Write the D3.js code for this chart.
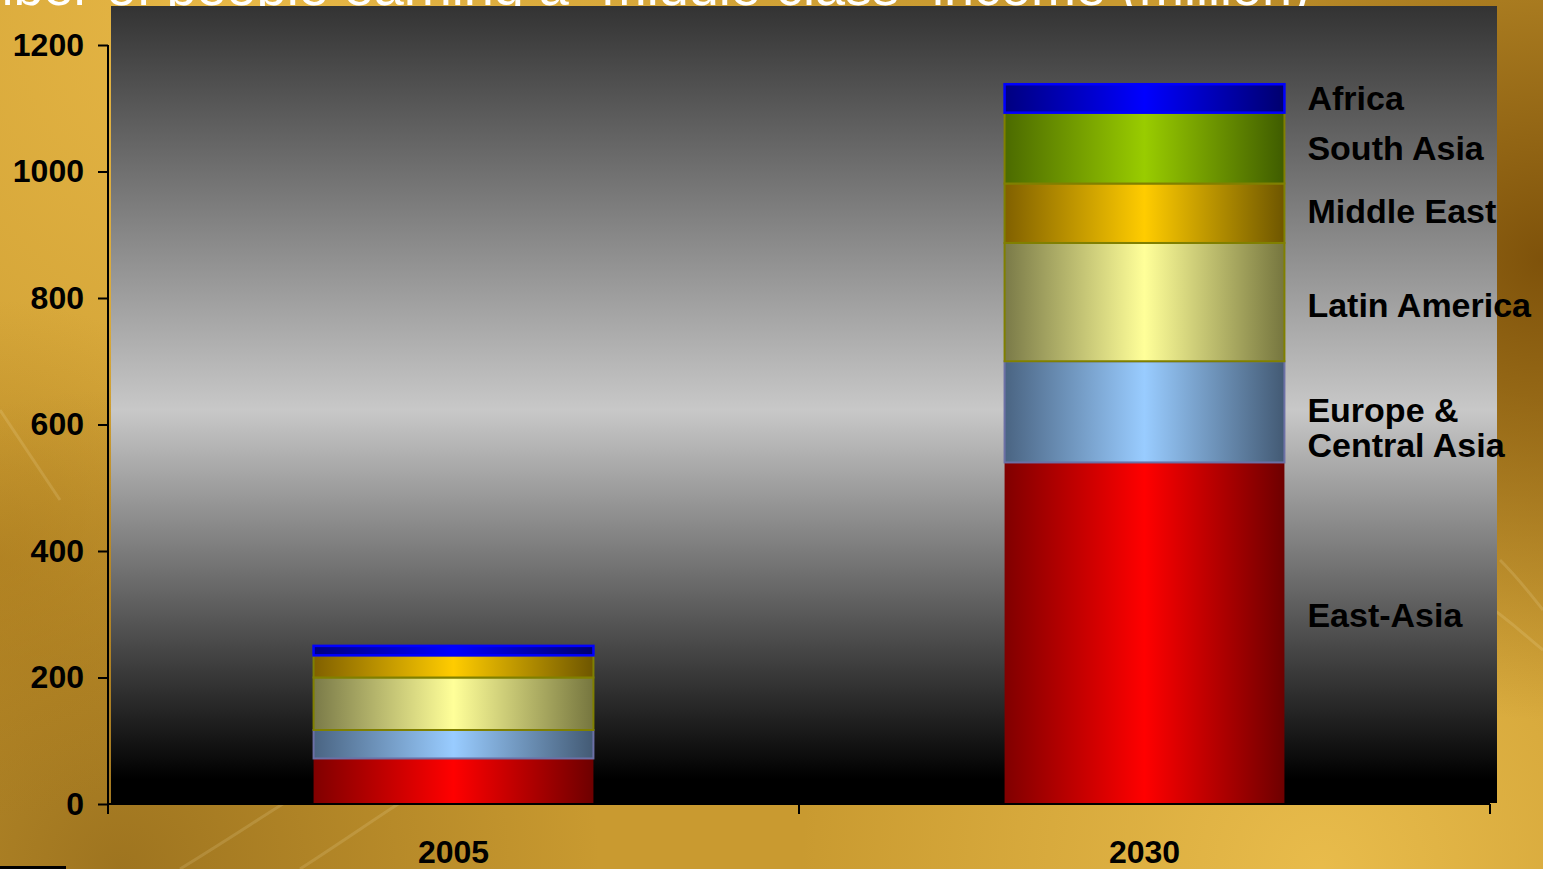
<!DOCTYPE html>
<html>
<head>
<meta charset="utf-8">
<script src="https://cdn.jsdelivr.net/npm/d3@7"></script>
<style>
  html, body { margin: 0; padding: 0; overflow: hidden; background: #c99a30; }
  text { font-family: "Liberation Sans", Arial, sans-serif; }
</style>
</head>
<body>
<div id="chart"></div>
<script>
var width = 1543,
    height = 869;

// data (million people)
var years = ["2005", "2030"];
var regions = ["East-Asia", "Europe & Central Asia", "Latin America", "Middle East", "South Asia", "Africa"];
var values2005 = [72, 45, 83, 35, 0, 15];
var values2030 = [540, 160, 187, 94, 112, 45];
var yTicks = [0, 200, 400, 600, 800, 1000, 1200];
var title = "Number of people earning a \u201Cmiddle class\u201D income (million)";

// bar colours: edge / centre / other edge / outline
var shades = {
  "East-Asia":             ["#800000", "#ff0000", "#6e0000", "none"],
  "Europe & Central Asia": ["#4a6482", "#99ccff", "#435a74", "#6c70a6"],
  "Latin America":         ["#7a7a48", "#ffff99", "#76763f", "#808000"],
  "Middle East":           ["#806000", "#ffcc00", "#6e5600", "#808000"],
  "South Asia":            ["#4b6a00", "#99cc00", "#3f5c00", "#808000"],
  "Africa":                ["#000080", "#0000ff", "#00006e", "#0000ff"]
};

var rows = years.map(function(y, i) {
  var row = { year: y };
  var vals = i === 0 ? values2005 : values2030;
  regions.forEach(function(r, j) { row[r] = vals[j]; });
  return row;
});

var svg = d3.select("#chart").append("svg")
  .attr("width", width)
  .attr("height", height);

var defs = svg.append("defs");

// ---- gold backdrop
function radial(id, cx, cy, r, color, op) {
  var g = defs.append("radialGradient").attr("id", id)
    .attr("gradientUnits", "userSpaceOnUse")
    .attr("cx", cx).attr("cy", cy).attr("r", r);
  g.append("stop").attr("offset", "0%").attr("stop-color", color).attr("stop-opacity", op);
  g.append("stop").attr("offset", "100%").attr("stop-color", color).attr("stop-opacity", 0);
}
radial("tl", 250, 0, 700, "#f2c24e", 0.75);
radial("br", 1320, 869, 520, "#f0c452", 0.8);
radial("tr", 1543, 260, 460, "#764a06", 0.9);
radial("bl", 120, 869, 480, "#8c6418", 0.7);
radial("ml", 0, 560, 260, "#a57418", 0.5);

svg.append("rect").attr("width", width).attr("height", height).attr("fill", "#c99a30");
["tl", "br", "tr", "bl", "ml"].forEach(function(id) {
  svg.append("rect").attr("width", width).attr("height", height).attr("fill", "url(#" + id + ")");
});

// faint light streaks in the backdrop
var streaks = svg.append("g").attr("fill", "none").attr("stroke", "#fff2c0")
  .attr("stroke-opacity", 0.15).attr("stroke-width", 3);
streaks.append("path").attr("d", "M180,869 C260,820 300,790 360,760");
streaks.append("path").attr("d", "M300,869 C360,830 380,815 420,790");
streaks.append("path").attr("d", "M1480,600 C1510,620 1530,640 1543,650");
streaks.append("path").attr("d", "M1500,560 C1520,580 1535,600 1543,610");
streaks.append("path").attr("d", "M0,410 C20,440 40,470 60,500");

// ---- title (mostly cut off at the top)
svg.append("text")
  .attr("x", 1310)
  .attr("y", 5)
  .attr("text-anchor", "end")
  .style("font-size", "54px")
  .style("fill", "#ffffff")
  .text(title);

// ---- scales
var x = d3.scaleBand()
  .domain(years)
  .range([108, 1490])
  .paddingInner(0.595)
  .paddingOuter(0.2975);

var y = d3.scaleLinear()
  .domain([0, 1200])
  .range([804, 45]);

// ---- plot background
var bg = defs.append("linearGradient").attr("id", "plotbg")
  .attr("x1", 0).attr("y1", 0).attr("x2", 0).attr("y2", 1);
[[0, "#333333"], [0.507, "#c8c8c8"], [0.97, "#000000"], [1, "#000000"]].forEach(function(s) {
  bg.append("stop").attr("offset", s[0]).attr("stop-color", s[1]);
});

svg.append("rect")
  .attr("x", 111)
  .attr("y", 6)
  .attr("width", 1497 - 111)
  .attr("height", 803 - 6)
  .attr("fill", "url(#plotbg)");

// ---- bar gradients
regions.forEach(function(r, i) {
  var c = shades[r];
  var g = defs.append("linearGradient").attr("id", "g" + i)
    .attr("x1", 0).attr("y1", 0).attr("x2", 1).attr("y2", 0);
  g.append("stop").attr("offset", "0%").attr("stop-color", c[0]);
  g.append("stop").attr("offset", "50%").attr("stop-color", c[1]);
  g.append("stop").attr("offset", "100%").attr("stop-color", c[2]);
});

// ---- stacked bars
var stacked = d3.stack().keys(regions)(rows);

var layers = svg.selectAll("g.layer")
  .data(stacked)
  .enter().append("g")
  .attr("class", "layer")
  .attr("fill", function(d, i) { return "url(#g" + i + ")"; })
  .attr("stroke", function(d) { return shades[d.key][3]; })
  .attr("stroke-width", function(d) { return d.key === "Africa" ? 2.5 : 2; });

layers.selectAll("rect")
  .data(function(d) { return d.filter(function(p) { return p[1] > p[0]; }); })
  .enter().append("rect")
  .attr("x", function(d) { return x(d.data.year); })
  .attr("width", x.bandwidth())
  .attr("y", function(d) { return y(d[1]); })
  .attr("height", function(d) { return y(d[0]) - y(d[1]); });

// ---- axes
var yAxis = svg.append("g")
  .attr("transform", "translate(108,0)")
  .call(d3.axisLeft(y).tickValues(yTicks).tickFormat(d3.format("d"))
    .tickSize(10).tickPadding(14));

var xAxis = svg.append("g")
  .attr("transform", "translate(0,804)")
  .call(d3.axisBottom(x).tickSize(0).tickPadding(0));
xAxis.selectAll(".tick text").attr("dy", null).attr("y", 59);

// tick marks between categories
var bounds = [x.range()[0], x.range()[0] + x.step(), x.range()[1]];
xAxis.selectAll("line.sep")
  .data(bounds)
  .enter().append("line")
  .attr("class", "sep")
  .attr("x1", function(d) { return d; })
  .attr("x2", function(d) { return d; })
  .attr("y1", 0)
  .attr("y2", 10)
  .attr("stroke", "#000");

[yAxis, xAxis].forEach(function(ax) {
  ax.select(".domain").attr("stroke", "#000").attr("stroke-width", 2);
  ax.selectAll(".tick line").attr("stroke", "#000").attr("stroke-width", 2);
  ax.selectAll(".sep").attr("stroke-width", 2);
  ax.selectAll(".tick text")
    .style("font-size", "32px")
    .style("font-weight", "bold")
    .attr("fill", "#000");
});
yAxis.select(".domain").attr("d", "M0,45V804");
xAxis.select(".domain").attr("d", "M108,0H1490");

// ---- series labels beside the 2030 bar
var last = stacked.map(function(s) { return s[1]; });
var nudge = { "Middle East": -2, "Latin America": 3, "Europe & Central Asia": 16, "East-Asia": -18 };
var lines = {
  "Europe & Central Asia": ["Europe &", "Central Asia"]
};

var labels = svg.append("g")
  .style("font-size", "34px")
  .style("font-weight", "bold")
  .attr("fill", "#000");

last.forEach(function(p, i) {
  var name = regions[i];
  var mid = (y(p[0]) + y(p[1])) / 2 + (nudge[name] || 0);
  var txt = lines[name] || [name];
  var lx = x("2030") + x.bandwidth() + 23;
  var t = labels.append("text")
    .attr("x", lx)
    .attr("y", mid + 12 - (txt.length - 1) * 17.5);
  txt.forEach(function(l, k) {
    t.append("tspan")
      .attr("x", lx)
      .attr("dy", k === 0 ? 0 : 35)
      .text(l);
  });
});

// small dark mark at the lower left corner
svg.append("rect")
  .attr("x", 0).attr("y", 866)
  .attr("width", 66).attr("height", 3)
  .attr("fill", "#000");
</script>
</body>
</html>
